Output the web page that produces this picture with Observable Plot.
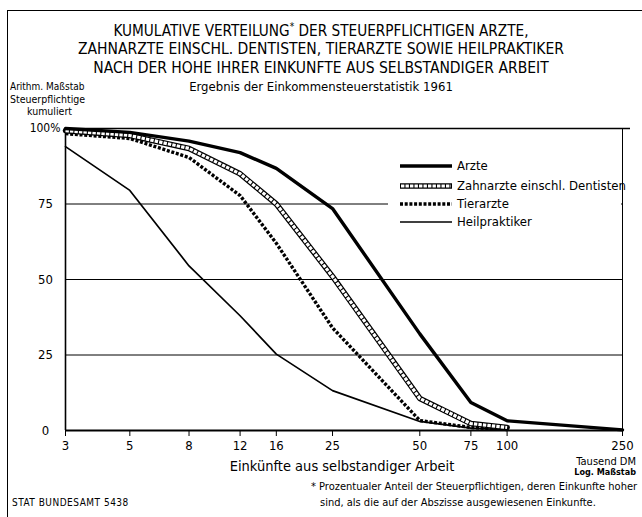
<!DOCTYPE html>
<html><head><meta charset="utf-8">
<script src="https://cdn.jsdelivr.net/npm/d3@7"></script>
<script src="https://cdn.jsdelivr.net/npm/@observablehq/plot@0.6"></script>
<style>
html,body{margin:0;padding:0;background:#fff;}
#wrap{position:relative;width:642px;height:517px;overflow:hidden;font-family:"DejaVu Sans Condensed","Liberation Sans Narrow","Roboto Condensed",sans-serif;font-stretch:condensed;color:#000;}
.t{position:absolute;white-space:nowrap;line-height:1;}
#frame{position:absolute;left:7px;top:10px;width:700px;height:600px;border-top:1.5px solid #000;border-left:1.5px solid #000;}
#legend{position:absolute;left:388px;top:156px;width:233px;height:76px;background:#fff;}
.lg{position:absolute;left:12px;width:52px;height:10px;}
.lt{position:absolute;left:69px;font-size:13px;}
</style></head>
<body><div id="wrap">
<div id="frame"></div>
<div id="chart" style="position:absolute;left:0;top:0"></div>
<div class="t" style="left:0;width:642px;text-align:center;top:22px;font-size:15.2px;">KUMULATIVE VERTEILUNG<sup style="font-size:10px">*</sup> DER STEUERPFLICHTIGEN ARZTE,</div>
<div class="t" style="left:0;width:642px;text-align:center;top:42px;font-size:15.5px;">ZAHNARZTE EINSCHL. DENTISTEN, TIERARZTE SOWIE HEILPRAKTIKER</div>
<div class="t" style="left:0;width:642px;text-align:center;top:61px;font-size:15.5px;">NACH DER HOHE IHRER EINKUNFTE AUS SELBSTANDIGER ARBEIT</div>
<div class="t" style="left:0;width:642px;text-align:center;top:80px;font-size:13px;">Ergebnis der Einkommensteuerstatistik 1961</div>
<div class="t" style="left:10px;top:82px;font-size:10px;">Arithm. Maßstab</div>
<div class="t" style="left:10px;top:94px;font-size:10.5px;">Steuerpflichtige</div>
<div class="t" style="left:27px;top:106px;font-size:10.5px;">kumuliert</div>
<div class="t" style="left:0;width:642px;text-align:center;top:459px;font-size:14.5px;padding-left:42px;box-sizing:border-box;">Einkünfte aus selbstandiger Arbeit</div>
<div class="t" style="right:6px;text-align:right;top:456px;font-size:11px;">Tausend DM</div>
<div class="t" style="right:6px;text-align:right;top:468px;font-size:9px;font-weight:bold;">Log. Maßstab</div>
<div class="t" style="left:311px;top:481px;font-size:11px;">* Prozentualer Anteil der Steuerpflichtigen, deren Einkunfte hoher</div>
<div class="t" style="left:320px;top:497px;font-size:11px;">sind, als die auf der Abszisse ausgewiesenen Einkunfte.</div>
<div class="t" style="left:12px;top:498px;font-size:10px;letter-spacing:0.5px;">STAT BUNDESAMT 5438</div>
<div id="legend"></div>
</div>
<script>
const xTicks = [3, 5, 8, 12, 16, 25, 50, 75, 100, 250];
const yTicks = [0, 25, 50, 75];
const seriesNames = ["Arzte", "Zahnarzte einschl. Dentisten", "Tierarzte", "Heilpraktiker"];
const xArzte = [3, 5, 8, 12, 16, 25, 50, 75, 100, 250];
const arzte = [100, 98.7, 95.8, 92, 86.8, 73.5, 32, 9.3, 3.2, 0.2];
const xZahn = [3, 5, 8, 12, 16, 25, 50, 75, 100];
const zahnarzte = [99.3, 97.7, 93.4, 85, 75, 51, 10.6, 2.3, 1];
const xTier = [3, 5, 8, 12, 16, 25, 50, 75, 100];
const tierarzte = [98.3, 96.7, 90.4, 77.8, 62, 34, 3.3, 1, 0.3];
const xHeil = [3, 5, 8, 12, 16, 25, 50, 75, 100];
const heilpraktiker = [94, 79.5, 54.5, 38, 25.3, 13.2, 3, 0.8, 0.2];

const toRows = (xs, ys) => xs.map((x, i) => ({x, y: ys[i]}));
const rA = toRows(xArzte, arzte), rZ = toRows(xZahn, zahnarzte), rT = toRows(xTier, tierarzte), rH = toRows(xHeil, heilpraktiker);

const chart = Plot.plot({
  width: 642, height: 517,
  marginLeft: 65, marginRight: 20, marginTop: 128, marginBottom: 87,
  style: {fontFamily: '"DejaVu Sans Condensed","Liberation Sans Narrow","Roboto Condensed",sans-serif', fontStretch: "condensed", background: "transparent", color: "#000"},
  x: {type: "log", domain: [3, 250], axis: null},
  y: {type: "linear", domain: [0, 100], axis: null},
  marks: [
    Plot.ruleY(yTicks.filter(d => d > 0), {y: d => d, stroke: "#000", strokeWidth: 1}),
    Plot.ruleY([100], {y: d => d, stroke: "#000", strokeWidth: 1.5, insetRight: -8}),
    Plot.ruleY([0], {y: d => d, stroke: "#000", strokeWidth: 1.8}),
    Plot.ruleX([3], {x: d => d, stroke: "#000", strokeWidth: 1.6}),
    Plot.ruleX([250], {x: d => d, stroke: "#000", strokeWidth: 1}),
    Plot.ruleX(xTicks, {x: d => d, y1: 0, y2: 0, insetBottom: -6, stroke: "#000", strokeWidth: 1}),
    Plot.text(xTicks, {x: d => d, frameAnchor: "bottom", dy: 19, text: d => String(d), fontSize: 13}),
    Plot.text(yTicks, {y: d => d, frameAnchor: "left", dx: -20, text: d => String(d), fontSize: 13, textAnchor: "middle"}),
    Plot.text([100], {y: d => d, frameAnchor: "left", text: d => d + "%", textAnchor: "end", dx: -5, fontSize: 12}),
    Plot.line(rH, {x: "x", y: "y", stroke: "#000", strokeWidth: 1.7}),
    Plot.line(rT, {x: "x", y: "y", stroke: "#000", strokeWidth: 3.4, strokeDasharray: "3,1.7", strokeLinecap: "butt", strokeLinejoin: "miter"}),
    Plot.line(rZ, {x: "x", y: "y", stroke: "#000", strokeWidth: 5.6}),
    Plot.line(rZ, {x: "x", y: "y", stroke: "#fff", strokeWidth: 3.2, strokeDasharray: "3.4,1.1", strokeLinecap: "butt", strokeLinejoin: "miter"}),
    Plot.line(rA, {x: "x", y: "y", stroke: "#000", strokeWidth: 3.4})
  ]
});
document.getElementById("chart").appendChild(chart);

// legend
const styles = [
  `<line x1="0" y1="5" x2="52" y2="5" stroke="#000" stroke-width="3.4"/>`,
  `<line x1="0" y1="5" x2="52" y2="5" stroke="#000" stroke-width="5.6"/><line x1="1" y1="5" x2="51" y2="5" stroke="#fff" stroke-width="3.2" stroke-dasharray="3.4,1.1"/>`,
  `<line x1="0" y1="5" x2="52" y2="5" stroke="#000" stroke-width="3.4" stroke-dasharray="3,1.7"/>`,
  `<line x1="0" y1="5" x2="52" y2="5" stroke="#000" stroke-width="1.7"/>`
];
const lg = document.getElementById("legend");
const tops = [5, 25, 43, 61];
seriesNames.forEach((n, i) => {
  lg.insertAdjacentHTML("beforeend",
    `<svg class="lg" style="top:${tops[i]}px" width="52" height="10">${styles[i]}</svg><div class="t lt" style="top:${tops[i] - 2}px">${n}</div>`);
});
</script>
</body></html>
